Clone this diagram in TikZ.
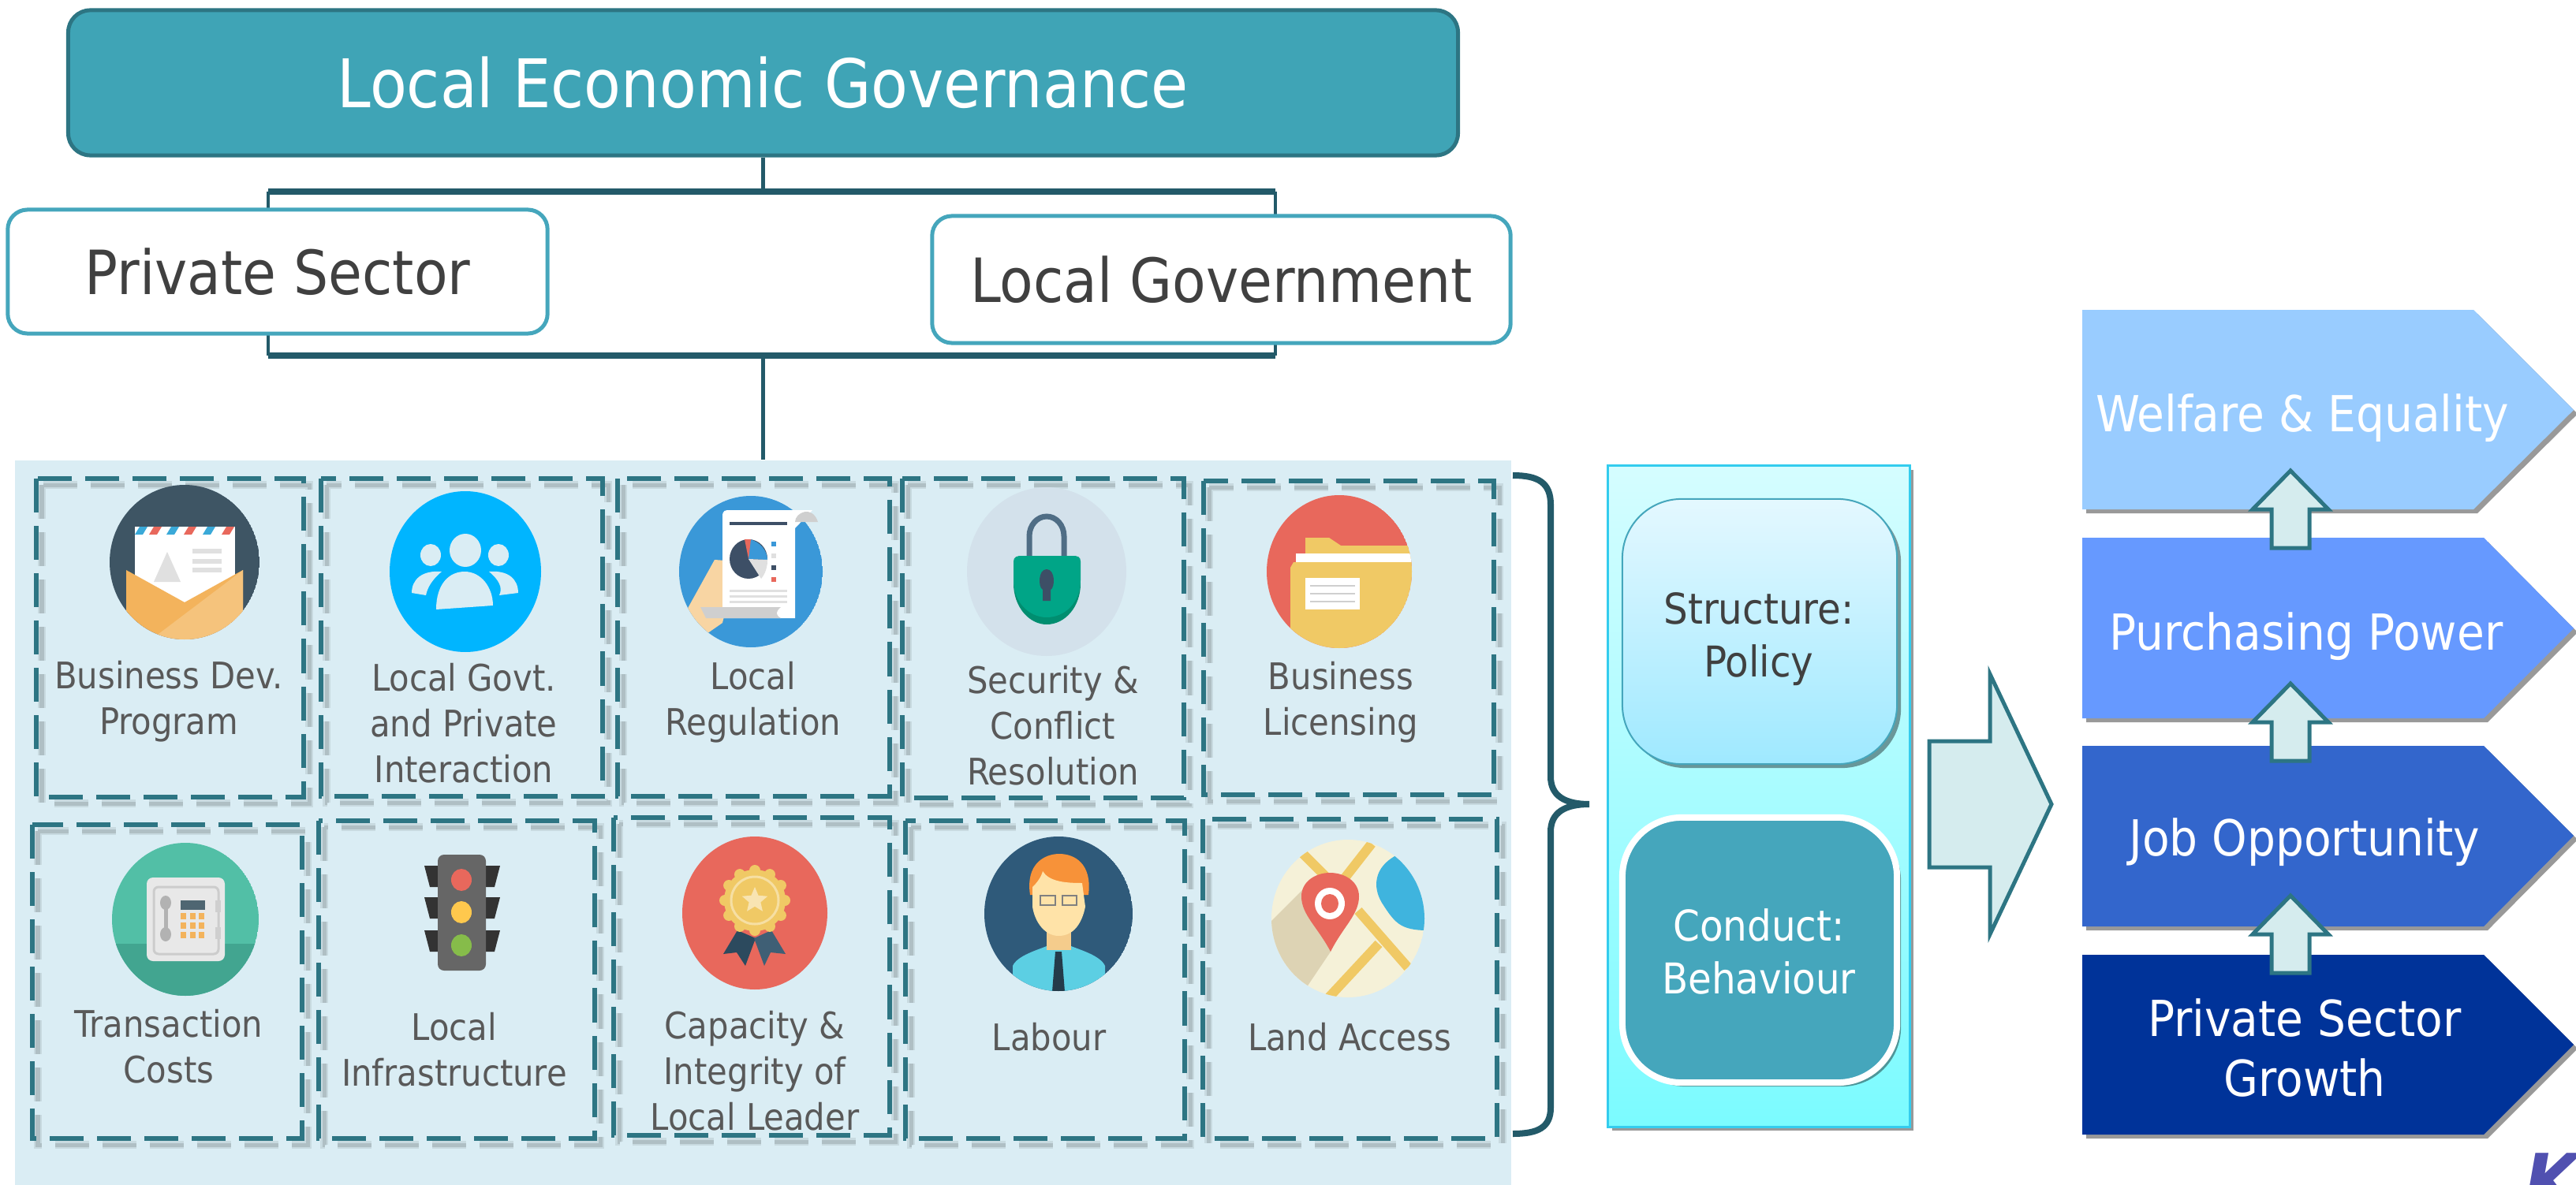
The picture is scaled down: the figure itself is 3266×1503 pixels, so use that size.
\documentclass[tikz,border=0pt]{standalone}
\usepackage{fontspec}
\setmainfont{DejaVu Sans Condensed}
\usetikzlibrary{shadows,shapes.geometric}

\definecolor{tealfill}{HTML}{3FA4B6}
\definecolor{tealline}{HTML}{2D7583}
\definecolor{darkline}{HTML}{235A69}
\definecolor{boxline}{HTML}{45A6BC}
\definecolor{panelfill}{HTML}{DAEDF4}
\definecolor{arrowfill}{HTML}{D5ECEE}
\definecolor{textgrey}{HTML}{595959}
\definecolor{textdark}{HTML}{404040}
\definecolor{orangea}{HTML}{F3B35C}
\definecolor{orangeb}{HTML}{F5C37C}
\definecolor{iconred}{HTML}{E8685C}
\definecolor{iconyellow}{HTML}{F0C965}
\definecolor{icongrey}{HTML}{CFCFCF}
\definecolor{slate}{HTML}{3E5564}
\definecolor{skyblue}{HTML}{00B5FF}
\definecolor{reportblue}{HTML}{3A98D8}
\definecolor{stripeblue}{HTML}{3AA9D8}
\definecolor{lockback}{HTML}{D3E1EB}
\definecolor{lockbar}{HTML}{4F6D85}
\definecolor{lockgreen}{HTML}{00A587}
\definecolor{lockdark}{HTML}{008E70}
\definecolor{keyhole}{HTML}{3D4F66}
\definecolor{safegreen}{HTML}{52BFA6}
\definecolor{safedark}{HTML}{42A590}
\definecolor{safescreen}{HTML}{4F6672}
\definecolor{lampgreen}{HTML}{86BC4A}
\definecolor{lampyellow}{HTML}{FFC84D}
\definecolor{ribbona}{HTML}{2C4A5E}
\definecolor{ribbonb}{HTML}{3F5F75}
\definecolor{navyface}{HTML}{2F5A7A}
\definecolor{skin}{HTML}{FFE3A8}
\definecolor{neck}{HTML}{F5CC8C}
\definecolor{hair}{HTML}{F79239}
\definecolor{shirt}{HTML}{5CCFE3}
\definecolor{tie}{HTML}{243B4A}
\definecolor{mapground}{HTML}{F5F1D8}
\definecolor{mapshade}{HTML}{DDD3B4}
\definecolor{water}{HTML}{3FB4DE}
\definecolor{stepa}{HTML}{99CCFF}
\definecolor{stepb}{HTML}{6699FF}
\definecolor{stepc}{HTML}{3366CC}
\definecolor{stepd}{HTML}{003399}
\definecolor{marktext}{HTML}{5050B0}
\definecolor{cyanline}{HTML}{33CCEE}

\begin{document}
\begin{tikzpicture}[x=.01cm,y=-.01cm,
    trunk/.style={draw=darkline, line width=.05cm},
    thickbar/.style={draw=darkline, line width=.08cm},
    titlebox/.style={draw=tealline, line width=.05cm, fill=tealfill, rounded corners=.28cm,
        text=white, font=\fontsize{24.2}{29}\selectfont, minimum width=17.61cm, minimum height=1.84cm},
    sidebox/.style={draw=boxline, line width=.05cm, fill=white, rounded corners=.25cm,
        text=textdark, font=\fontsize{22}{27}\selectfont},
    dashbox/.style={draw=tealline, line width=.055cm, dash pattern=on .43cm off .17cm},
    dashshade/.style={draw=black, line width=.1cm, opacity=.08, dash pattern=on .43cm off .17cm},
    dashcore/.style={draw=black, line width=.05cm, opacity=.12, dash pattern=on .43cm off .17cm},
    itemtext/.style={text=textgrey, align=center, inner sep=0pt, font=\fontsize{13.2}{16.5}\selectfont},
    softshadow/.style={drop shadow={shadow xshift=.05cm, shadow yshift=-.05cm, fill=black, opacity=.4}},
    blockarrow/.style={draw=tealline, line width=.05cm, fill=arrowfill},
    stepshape/.style={softshadow},
    steptext/.style={text=white, align=center, inner sep=0pt, font=\fontsize{17.9}{21.5}\selectfont},
    sctext/.style={align=center, inner sep=0pt, font=\fontsize{15.3}{19}\selectfont}]

    \useasboundingbox (0,0) rectangle (3266,1503);

    % top of the chart
    \node[titlebox] (title) at (967.5,105) {\raisebox{-.05cm}{Local Economic Governance}};
    \node[fill=panelfill, minimum width=18.95cm, minimum height=9.19cm, inner sep=0pt] (panel) at (967.5,1043.5) {};

    \coordinate (framenw) at (340,243);
    \coordinate (framene) at (1617,243);
    \coordinate (framesw) at (340,451);
    \coordinate (framese) at (1617,451);
    \coordinate (frametop) at (967.5,243);
    \coordinate (framebot) at (967.5,451);
    \draw[trunk, line width=.04cm] (framenw) -- (framesw) (framene) -- (framese);
    \draw[thickbar] (framenw) -- (framene);
    \draw[thickbar] (framesw) -- (framese);
    \draw[trunk] (title.south) -- (frametop);
    \draw[trunk] (framebot) -- (panel.north);

    \node[sidebox, minimum width=6.84cm, minimum height=1.57cm] (private) at (352,344.5) {\raisebox{-.02cm}{Private Sector}};
    \node[sidebox, minimum width=7.33cm, minimum height=1.61cm] (govt) at (1548.5,354.5) {\raisebox{-.02cm}{Local Government}};

    % the ten dashed boxes
    \foreach \boxname/\xa/\ya/\xb/\yb in {dev/46/607/385/1011, inter/407/607/764/1010, reg/783/607/1128/1010,
        sec/1144/607/1501/1012, lic/1526/610/1894/1008, cost/41/1046/383/1444, infra/404/1041/754/1444,
        cap/778/1037/1128/1440, lab/1148/1041/1502/1444, land/1525/1039/1898/1444}{
        \draw[dashshade] (\xa+7,\ya+8) rectangle (\xb+7,\yb+8);
        \draw[dashcore] (\xa+7,\ya+8) rectangle (\xb+7,\yb+8);
        \draw[dashbox] (\xa,\ya) rectangle (\xb,\yb);
    }

    % envelope
    \begin{scope}
        \clip (234,713) ellipse [x radius=95, y radius=98];
        \fill[slate] (234,713) ellipse [x radius=95, y radius=98];
        \fill[white] (171,668) rectangle (298,770);
        \foreach \sx/\sc in {171/stripeblue,189/iconred,211/stripeblue,233/iconred,257/stripeblue,281/iconred}
            \fill[\sc] (\sx,678) -- (\sx+6,668) -- (\sx+16,668) -- (\sx+10,678) -- cycle;
        \fill[black!12] (195,738) -- (212,700) -- (229,738) -- cycle;
        \foreach \sy in {699,712,723} \fill[black!12] (244,\sy-3) rectangle (281,\sy+3);
        \fill[orangea] (160,723) -- (234,764) -- (308,723) -- (308,820) -- (160,820) -- cycle;
        \fill[orangeb] (180,820) -- (308,723) -- (308,820) -- cycle;
    \end{scope}

    % people
    \fill[skyblue] (590,725) ellipse [x radius=96, y radius=102];
    \fill[panelfill] (590,698) ellipse [x radius=20, y radius=21];
    \fill[panelfill] (546,704) ellipse [x radius=13, y radius=14];
    \fill[panelfill] (632,704) ellipse [x radius=13, y radius=14];
    \fill[panelfill] (553,773) .. controls (553,740) and (570,725) .. (589,725) .. controls (610,725) and (625,745) .. (625,768) -- cycle;
    \fill[panelfill] (522,752) .. controls (522,735) and (535,723) .. (560,725) .. controls (548,735) and (542,745) .. (540,755) -- cycle;
    \fill[panelfill] (657,752) .. controls (657,735) and (645,723) .. (620,725) .. controls (632,735) and (638,745) .. (633,755) -- cycle;

    % report
    \begin{scope}
        \clip (952,725) ellipse [x radius=91, y radius=96];
        \fill[reportblue] (952,725) ellipse [x radius=91, y radius=96];
        \fill[orangeb!70!white] (870,775) -- (906,710) -- (935,712) -- (916,790) -- (880,815) -- cycle;
    \end{scope}
    \fill[white] (916,655) .. controls (916,647) and (920,647) .. (925,647) -- (1030,647) -- (1008,670) -- (1008,784) -- (916,784) -- cycle;
    \fill[icongrey] (1008,662) .. controls (1008,650) and (1030,640) .. (1037,662) -- cycle;
    \fill[icongrey] (888,770) -- (990,770) .. controls (983,776) and (983,780) .. (990,784) -- (895,784) -- cycle;
    \fill[keyhole] (925,662) rectangle (998,666);
    \foreach \sy in {748,755,762} \fill[black!12] (925,\sy) rectangle (998,\sy+3);
    \fill[keyhole] (949,709) ellipse [x radius=24, y radius=25];
    \fill[reportblue] (949,709) -- (950,684) .. controls (965,687) and (973,700) .. (973,710) -- cycle;
    \fill[black!12] (949,709) -- (973,710) .. controls (973,720) and (970,728) .. (965,734) -- cycle;
    \fill[iconred] (944,684) -- (952,684) -- (949,709) -- cycle;
    \foreach \sy/\sc in {687/reportblue,702/black!12,717/keyhole,732/iconred}
        \fill[\sc] (978,\sy) rectangle (984,\sy+6);

    % lock
    \fill[lockback] (1327,725) ellipse [x radius=101, y radius=107];
    \draw[draw=lockbar, line width=.07cm] (1305,706) -- (1305,680) arc [start angle=180, end angle=360, x radius=22, y radius=25] -- (1349,706);
    \fill[lockdark] (1285,740) .. controls (1285,770) and (1305,792) .. (1327,792) .. controls (1350,792) and (1370,770) .. (1370,740) -- cycle;
    \fill[lockgreen] (1285,712) .. controls (1285,706) and (1290,705) .. (1295,705) -- (1360,705) .. controls (1366,705) and (1370,706) .. (1370,712) -- (1370,736) .. controls (1370,764) and (1350,783) .. (1327,783) .. controls (1305,783) and (1285,764) .. (1285,736) -- cycle;
    \fill[keyhole] (1327,722) .. controls (1338,722) and (1338,745) .. (1332,748) -- (1332,762) -- (1322,762) -- (1322,748) .. controls (1316,745) and (1316,722) .. (1327,722) -- cycle;

    % folder
    \begin{scope}
        \clip (1698,725) ellipse [x radius=92, y radius=97];
        \fill[iconred] (1698,725) ellipse [x radius=92, y radius=97];
        \fill[iconyellow] (1655,692) -- (1655,682) -- (1685,682) -- (1700,692) -- (1800,692) -- (1800,715) -- (1655,715) -- cycle;
        \fill[white] (1643,702) rectangle (1800,713);
        \fill[iconyellow] (1636,720) -- (1640,713) -- (1800,713) -- (1800,830) -- (1636,830) -- cycle;
        \fill[white] (1655,733) rectangle (1724,773);
        \foreach \sy in {743,753,763} \fill[icongrey] (1661,\sy-1) rectangle (1718,\sy+1);
    \end{scope}

    % safe
    \begin{scope}
        \clip (235,1166) ellipse [x radius=93, y radius=97];
        \fill[safegreen] (235,1166) ellipse [x radius=93, y radius=97];
        \fill[safedark] (130,1197) rectangle (340,1270);
    \end{scope}
    \fill[fill=black!9, rounded corners=.08cm] (186,1113) rectangle (285,1219);
    \draw[draw=black!20, line width=.03cm, rounded corners=.06cm] (195,1125) rectangle (277,1210);
    \draw[draw=black!30, line width=.05cm] (210,1145) -- (210,1185);
    \fill[black!30] (210,1145) ellipse [x radius=7, y radius=9];
    \fill[black!30] (210,1185) ellipse [x radius=7, y radius=9];
    \fill[safescreen] (229,1142) rectangle (260,1154);
    \foreach \kx in {229,241,252}
        \foreach \ky in {1158,1170,1182}
            \fill[orangea] (\kx,\ky) rectangle (\kx+7,\ky+8);
    \foreach \sy in {1142,1176} \fill[icongrey] (273,\sy) rectangle (280,\sy+15);

    % traffic light
    \foreach \ky in {1098,1138,1180}{
        \fill[black!80] (538,\ky) -- (556,\ky) -- (556,\ky+27) -- (545,\ky+27) -- cycle;
        \fill[black!80] (634,\ky) -- (616,\ky) -- (616,\ky+27) -- (627,\ky+27) -- cycle;
    }
    \fill[fill=black!60, rounded corners=.08cm] (555,1084) rectangle (616,1231);
    \foreach \ky/\kc in {1116/iconred,1157/lampyellow,1199/lampgreen}
        \fill[\kc] (585,\ky) ellipse [x radius=13, y radius=14];

    % medal
    \fill[iconred] (957,1158) ellipse [x radius=92, y radius=97];
    \fill[ribbona] (935,1180) -- (917,1210) -- (934,1208) -- (945,1225) -- (958,1190) -- cycle;
    \fill[ribbonb] (978,1180) -- (996,1210) -- (977,1208) -- (969,1225) -- (956,1190) -- cycle;
    \foreach \a in {0,30,...,330} \fill[iconyellow] (957,1142) ++(\a:38) circle (7);
    \fill[iconyellow] (957,1142) circle (39);
    \draw[draw=iconyellow!60!white, line width=.03cm] (957,1142) circle (30);
    \node[star, star points=5, star point ratio=2.2, fill=iconyellow!50!white, minimum size=.34cm, inner sep=0pt] (medalstar) at (957,1142) {};

    % person
    \begin{scope}
        \clip (1342,1159) ellipse [x radius=94, y radius=98];
        \fill[navyface] (1342,1159) ellipse [x radius=94, y radius=98];
        \fill[shirt] (1284,1258) -- (1284,1225) .. controls (1290,1212) and (1315,1205) .. (1327,1200) -- (1358,1200) .. controls (1370,1205) and (1395,1212) .. (1401,1225) -- (1401,1258) -- cycle;
        \fill[tie] (1338,1207) -- (1346,1207) -- (1350,1258) -- (1334,1258) -- cycle;
    \end{scope}
    \fill[neck] (1327,1180) rectangle (1358,1205);
    \fill[hair] (1306,1135) .. controls (1300,1095) and (1325,1083) .. (1343,1083) .. controls (1362,1083) and (1385,1095) .. (1380,1135) -- cycle;
    \fill[skin] (1309,1125) .. controls (1320,1115) and (1322,1105) .. (1322,1105) .. controls (1330,1118) and (1350,1120) .. (1372,1120) -- (1376,1150) .. controls (1372,1170) and (1362,1187) .. (1342,1187) .. controls (1325,1187) and (1312,1170) .. (1309,1150) -- cycle;
    \draw[draw=gray, line width=.02cm] (1319,1136) rectangle (1338,1148);
    \draw[draw=gray, line width=.02cm] (1347,1136) rectangle (1365,1148);

    % map
    \begin{scope}
        \clip (1709,1165) ellipse [x radius=97, y radius=100];
        \fill[mapground] (1709,1165) ellipse [x radius=97, y radius=100];
        \fill[mapshade] (1610,1170) -- (1660,1120) -- (1687,1207) -- (1650,1262) -- (1610,1240) -- cycle;
        \draw[draw=iconyellow, line width=.12cm] (1652,1083) -- (1682,1113);
        \draw[draw=iconyellow, line width=.12cm] (1739,1070) -- (1700,1120);
        \draw[draw=iconyellow, line width=.12cm] (1722,1155) -- (1785,1227);
        \draw[draw=iconyellow, line width=.12cm] (1748,1197) -- (1682,1268);
        \fill[water] (1770,1085) .. controls (1742,1100) and (1740,1125) .. (1752,1145) .. controls (1768,1170) and (1775,1180) .. (1810,1180) -- (1810,1085) -- cycle;
    \end{scope}
    \fill[iconred] (1687,1207) .. controls (1670,1175) and (1650,1160) .. (1650,1137) .. controls (1650,1118) and (1668,1107) .. (1686,1107) .. controls (1705,1107) and (1723,1118) .. (1723,1137) .. controls (1723,1160) and (1703,1175) .. (1687,1207) -- cycle;
    \fill[white] (1686,1146) ellipse [x radius=19, y radius=20];
    \fill[iconred] (1686,1146) ellipse [x radius=11, y radius=12];

    % labels of the boxes
    \node[itemtext] (devtext) at (214,890) {Business Dev.\\Program};
    \node[itemtext] (intertext) at (588,917) {Local Govt.\\and Private\\Interaction};
    \node[itemtext] (regtext) at (955,891) {Local\\Regulation};
    \node[itemtext] (sectext) at (1335,920) {Security \&\\Conflict\\Resolution};
    \node[itemtext] (lictext) at (1700,891) {Business\\Licensing};
    \node[itemtext] (costtext) at (214,1327) {Transaction\\Costs};
    \node[itemtext] (infratext) at (576,1331) {Local\\Infrastructure};
    \node[itemtext] (captext) at (957,1358) {Capacity \&\\Integrity of\\Local Leader};
    \node[itemtext] (labtext) at (1330,1315) {Labour};
    \node[itemtext] (landtext) at (1711,1315) {Land Access};

    % brace
    \draw[draw=darkline, line width=.08cm] (1918,603) .. controls (1950,603) and (1966,612) .. (1966,640) -- (1966,985)
        .. controls (1966,1010) and (1985,1020) .. (2015,1020) .. controls (1985,1020) and (1966,1030) .. (1966,1055)
        -- (1966,1405) .. controls (1966,1430) and (1950,1438) .. (1918,1438);

    % structure and conduct
    \node[draw=cyanline, line width=.03cm, top color={rgb,255:red,213;green,253;blue,255}, bottom color={rgb,255:red,123;green,251;blue,255}, minimum width=3.82cm, minimum height=8.38cm, inner sep=0pt, softshadow] (scpanel) at (2230,1010) {};
    \node[draw=boxline, line width=.02cm, rounded corners=.75cm, top color={rgb,255:red,228;green,248;blue,255}, bottom color={rgb,255:red,159;green,233;blue,255}, minimum width=3.48cm, minimum height=3.36cm, softshadow] (structbox) at (2231,801) {};
    \node[draw=white, line width=.08cm, rounded corners=.75cm, fill=boxline, minimum width=3.48cm, minimum height=3.36cm, softshadow] (conductbox) at (2231,1205) {};
    \node[sctext, text=textdark] (structtext) at (2230,811) {Structure:\\Policy};
    \node[sctext, text=white] (conducttext) at (2230,1207) {Conduct:\\Behaviour};

    % big arrow
    \draw[blockarrow] (2446,940) -- (2523,940) -- (2523,855) -- (2601,1020) -- (2523,1185) -- (2523,1100) -- (2446,1100) -- cycle;

    % results
    \fill[stepa, stepshape] (2640,393) -- (3136,393) -- (3263,520) -- (3136,646) -- (2640,646) -- cycle;
    \fill[stepb, stepshape] (2640,682) -- (3149,682) -- (3263,797) -- (3149,911) -- (2640,911) -- cycle;
    \fill[stepc, stepshape] (2640,946) -- (3149,946) -- (3263,1060) -- (3149,1175) -- (2640,1175) -- cycle;
    \fill[stepd, stepshape] (2640,1211) -- (3149,1211) -- (3263,1325) -- (3149,1439) -- (2640,1439) -- cycle;

    \node[steptext] (welfare) at (2919,530) {Welfare \& Equality};
    \node[steptext] (purchase) at (2924,807) {Purchasing Power};
    \node[steptext] (job) at (2922,1068) {Job Opportunity};
    \node[steptext] (growth) at (2922,1329) {Private Sector\\Growth};

    \foreach \tip in {597,867,1136}
        \draw[blockarrow] (2904,\tip) -- (2952,\tip+49) -- (2928,\tip+49) -- (2928,\tip+98) -- (2880,\tip+98) -- (2880,\tip+49) -- (2856,\tip+49) -- cycle;

    % corner mark
    \node[text=marktext, inner sep=0pt, anchor=north west, font=\fontsize{28}{28}\bfseries\itshape\selectfont] (mark) at (3200,1462) {K};
\end{tikzpicture}
\end{document}
